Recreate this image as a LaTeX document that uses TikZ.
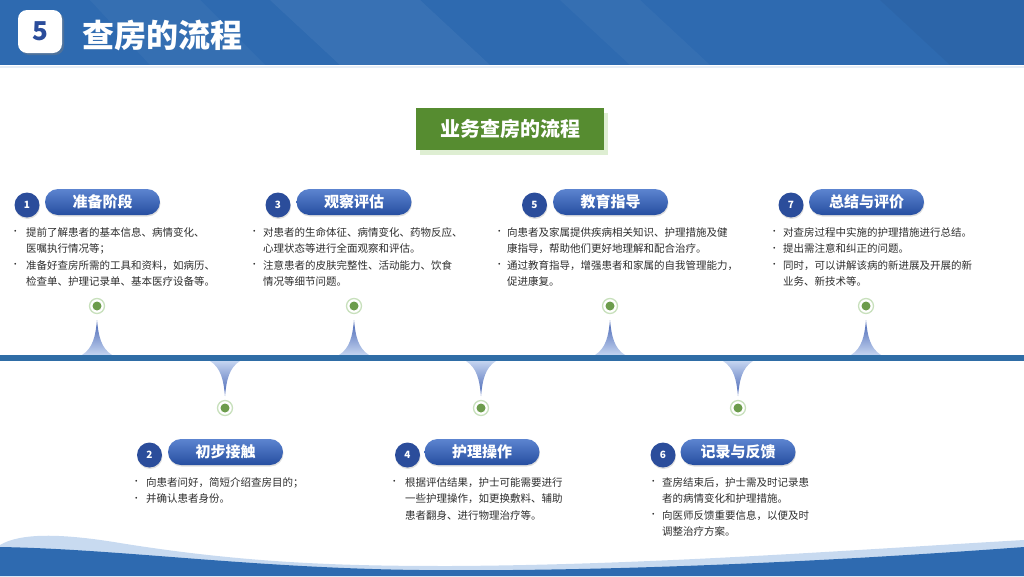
\documentclass[tikz,border=0pt]{standalone}
\usepackage{fontspec}
\setmainfont{Noto Sans CJK SC}
\usetikzlibrary{shadows}
\definecolor{hdrblue}{RGB}{46,106,176}
\definecolor{lineblue}{RGB}{47,109,166}
\definecolor{numblue}{RGB}{43,77,155}
\definecolor{pilltop}{RGB}{92,132,208}
\definecolor{pillbot}{RGB}{38,78,160}
\definecolor{spikedark}{RGB}{70,100,180}
\definecolor{spikelight}{RGB}{196,212,240}
\definecolor{dotgreen}{RGB}{108,156,76}
\definecolor{ringgreen}{RGB}{200,224,188}
\definecolor{boxgreen}{RGB}{86,140,48}
\definecolor{boxshadow}{RGB}{222,238,210}
\definecolor{txtgray}{RGB}{45,45,45}
\definecolor{wavelight}{RGB}{200,218,240}
\newcommand{\itembul}{\raisebox{1.5pt}{\fontsize{8.5}{8.5}\selectfont •}}
\begin{document}
\begin{tikzpicture}[x=1pt,y=-1pt,
  numc/.style={circle, fill=numblue, text=white, minimum size=25pt, inner sep=0pt,
    font=\bfseries\fontsize{10}{10}\selectfont,
    drop shadow={opacity=0.25, shadow xshift=0.5pt, shadow yshift=-1.5pt}},
  pill/.style={rectangle, rounded corners=13pt, minimum width=115pt, minimum height=26pt,
    inner sep=0pt, top color=pilltop, bottom color=pillbot, text=white,
    font=\bfseries\fontsize{15}{15}\selectfont,
    drop shadow={opacity=0.25, shadow xshift=0.5pt, shadow yshift=-1.5pt}},
  txt/.style={anchor=north west, inner sep=0pt, text=txtgray,
    font=\fontsize{10.5}{16.5}\selectfont},
  dotring/.style={circle, minimum size=15pt, inner sep=0pt, fill=white, draw=ringgreen, line width=1.3pt},
  dotcore/.style={circle, minimum size=9pt, inner sep=0pt, fill=dotgreen},
]
\useasboundingbox (0,0) rectangle (1024,576);
% ---- header
\fill[hdrblue] (0,0) rectangle (1024,65);
\fill[white, opacity=0.05] (270,0) -- (420,0) -- (490,65) -- (340,65) -- cycle;
\fill[white, opacity=0.035] (90,0) -- (200,0) -- (265,65) -- (150,65) -- cycle;
\fill[white, opacity=0.035] (560,0) -- (640,0) -- (710,65) -- (630,65) -- cycle;
\fill[black, opacity=0.04] (880,0) -- (1024,0) -- (1024,65) -- (950,65) -- cycle;
\draw[line width=2pt, color=hdrblue!12] (0,66.5) -- (1024,66.5);
\node[rectangle, rounded corners=9pt, fill=white, minimum width=44pt, minimum height=43pt,
  text=numblue, font=\bfseries\fontsize{26}{26}\selectfont,
  drop shadow={opacity=0.4, shadow xshift=2pt, shadow yshift=-2pt}] (badge) at (40,31.5) {5};
\node[anchor=west, inner sep=0pt, text=white, font=\bfseries\fontsize{32}{32}\selectfont] (title) at (82,35) {查房的流程};
% ---- green box
\node[rectangle, fill=boxgreen, minimum width=188pt, minimum height=42pt, text=white,
  font=\bfseries\fontsize{20}{20}\selectfont,
  drop shadow={fill=boxshadow, opacity=1, shadow xshift=4pt, shadow yshift=-5pt}] (head) at (510,128.5) {业务查房的流程};
% ---- bottom wave
\fill[wavelight] (0,545) .. controls (20,533) and (60,533) .. (120,543)
  .. controls (250,564) and (350,566) .. (450,566)
  .. controls (650,565) and (850,550) .. (1024,540) -- (1024,576) -- (0,576) -- cycle;
\fill[hdrblue] (0,547) .. controls (120,549) and (250,568) .. (420,570)
  .. controls (620,572) and (850,560) .. (1024,547) -- (1024,576) -- (0,576) -- cycle;
% ---- spikes up (odd) and down (even)
\foreach \cx in {97,354,610,866}{
  \shade[top color=spikedark, bottom color=spikelight]
    (\cx-15,355) .. controls (\cx-4,348) and (\cx-1.5,336) .. (\cx,320)
    .. controls (\cx+1.5,336) and (\cx+4,348) .. (\cx+15,355) -- cycle;
}
\foreach \cx in {225,481,738}{
  \shade[top color=spikelight, bottom color=spikedark]
    (\cx-15,361) .. controls (\cx-4,368) and (\cx-1.5,380) .. (\cx,396)
    .. controls (\cx+1.5,380) and (\cx+4,368) .. (\cx+15,361) -- cycle;
}
% ---- timeline
\draw[lineblue, line width=6pt] (0,358) -- (1024,358);
% dots
\foreach \n/\cx/\cy in {1/97/306,3/354/306,5/610/306,7/866/306,2/225/408,4/481/408,6/738/408}{
  \node[dotring] (r\n) at (\cx,\cy) {};
  \node[dotcore] (d\n) at (\cx,\cy) {};
}
% ---- item 1
\node[numc] (n1) at (27,205) {1};
\node[pill] (p1) at (102.5,202) {准备阶段};
\node[txt] (t1) at (11,224.5) {\begin{tabular}{@{}p{15pt}@{}l@{}}
\itembul & 提前了解患者的基本信息、病情变化、\\
 & 医嘱执行情况等；\\
\itembul & 准备好查房所需的工具和资料，如病历、\\
 & 检查单、护理记录单、基本医疗设备等。
\end{tabular}};
% ---- item 3
\node[numc] (n3) at (278,205) {3};
\node[pill] (p3) at (354,202) {观察评估};
\node[txt] (t3) at (250,224.5) {\begin{tabular}{@{}p{13pt}@{}l@{}}
\itembul & 对患者的生命体征、病情变化、药物反应、\\
 & 心理状态等进行全面观察和评估。\\
\itembul & 注意患者的皮肤完整性、活动能力、饮食\\
 & 情况等细节问题。
\end{tabular}};
% ---- item 5
\node[numc] (n5) at (534.5,205) {5};
\node[pill] (p5) at (610.5,202) {教育指导};
\node[txt] (t5) at (495,224.5) {\begin{tabular}{@{}p{12pt}@{}l@{}}
\itembul & 向患者及家属提供疾病相关知识、护理措施及健\\
 & 康指导，帮助他们更好地理解和配合治疗。\\
\itembul & 通过教育指导，增强患者和家属的自我管理能力，\\
 & 促进康复。
\end{tabular}};
% ---- item 7
\node[numc] (n7) at (791,205) {7};
\node[pill] (p7) at (866.5,202) {总结与评价};
\node[txt] (t7) at (770,224.5) {\begin{tabular}{@{}p{13pt}@{}l@{}}
\itembul & 对查房过程中实施的护理措施进行总结。\\
\itembul & 提出需注意和纠正的问题。\\
\itembul & 同时，可以讲解该病的新进展及开展的新\\
 & 业务、新技术等。
\end{tabular}};
% ---- item 2
\node[numc] (n2) at (149.5,455) {2};
\node[pill] (p2) at (225.5,452) {初步接触};
\node[txt] (t2) at (132,474.5) {\begin{tabular}{@{}p{14pt}@{}l@{}}
\itembul & 向患者问好，简短介绍查房目的；\\
\itembul & 并确认患者身份。
\end{tabular}};
% ---- item 4
\node[numc] (n4) at (407.5,455) {4};
\node[pill] (p4) at (482,452) {护理操作};
\node[txt] (t4) at (390,474.5) {\begin{tabular}{@{}p{15pt}@{}l@{}}
\itembul & 根据评估结果，护士可能需要进行\\
 & 一些护理操作，如更换敷料、辅助\\
 & 患者翻身、进行物理治疗等。
\end{tabular}};
% ---- item 6
\node[numc] (n6) at (663,455) {6};
\node[pill] (p6) at (738,452) {记录与反馈};
\node[txt] (t6) at (649,474.5) {\begin{tabular}{@{}p{13pt}@{}l@{}}
\itembul & 查房结束后，护士需及时记录患\\
 & 者的病情变化和护理措施。\\
\itembul & 向医师反馈重要信息，以便及时\\
 & 调整治疗方案。
\end{tabular}};
\end{tikzpicture}
\end{document}
